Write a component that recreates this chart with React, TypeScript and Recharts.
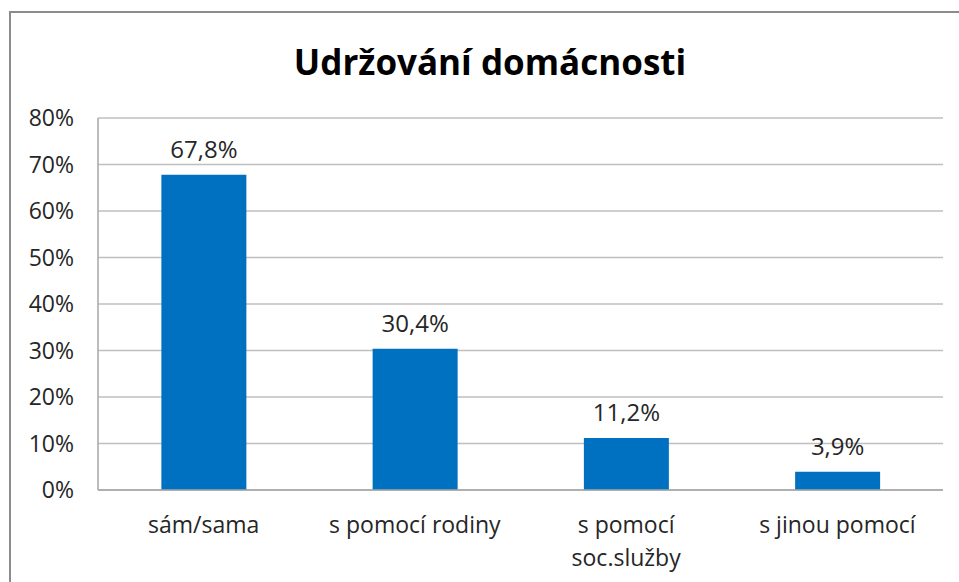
import { Bar, BarChart, CartesianGrid, LabelList, XAxis, YAxis } from "recharts"

const CATEGORIES = ["sám/sama", "s pomocí rodiny", "s pomocí\nsoc.služby", "s jinou pomocí"]
const SHARE = [67.8, 30.4, 11.2, 3.9]
const Y_TICKS = [0, 10, 20, 30, 40, 50, 60, 70, 80]

const BAR_COLOR = "#0070c0"
const TEXT_COLOR = "#262626"
const FONT = "'Open Sans', 'DejaVu Sans', sans-serif"

const data = CATEGORIES.map((name, index) => ({ name, value: SHARE[index] }))

const formatPercent = (value: number) => `${String(value).replace(".", ",")}%`

const CategoryTick = ({ x, y, payload }: { x?: number; y?: number; payload?: { value: string } }) => {
  const lines = String(payload?.value ?? "").split("\n")
  return (
    <text x={x} y={y} textAnchor="middle" fill={TEXT_COLOR} fontSize={23} fontFamily={FONT}>
      {lines.map((line, index) => (
        <tspan key={line} x={x} dy={index === 0 ? 35 : 33}>
          {line}
        </tspan>
      ))}
    </text>
  )
}

export default function App() {
  return (
    <div
      style={{
        position: "absolute",
        left: 0,
        top: 0,
        width: 959,
        height: 582,
        overflow: "hidden",
        background: "#fff",
      }}
    >
      <div
        style={{
          position: "absolute",
          left: 9,
          top: 11,
          width: 980,
          height: 620,
          border: "2px solid #8c8c8c",
        }}
      />
      <div
        style={{
          position: "absolute",
          left: 0,
          width: 980,
          top: 38,
          textAlign: "center",
          fontFamily: FONT,
          fontWeight: 700,
          fontSize: 35,
          lineHeight: "48px",
          color: "#000",
        }}
      >
        Udržování domácnosti
      </div>
      <BarChart
        width={959}
        height={582}
        data={data}
        margin={{ top: 118, right: 16, left: 0, bottom: 62 }}
        barCategoryGap="30%"
        style={{ position: "absolute", left: 0, top: 0 }}
      >
        <CartesianGrid vertical={false} stroke="#bfbfbf" strokeWidth={1.5} />
        <XAxis
          dataKey="name"
          height={30}
          axisLine={{ stroke: "#a6a6a6", strokeWidth: 1.5 }}
          tickLine={false}
          tick={<CategoryTick />}
          interval={0}
        />
        <YAxis
          width={98}
          domain={[0, 80]}
          ticks={Y_TICKS}
          tickFormatter={(value: number) => `${value}%`}
          axisLine={{ stroke: "#a6a6a6", strokeWidth: 1.5 }}
          tickLine={false}
          tickSize={0}
          tickMargin={24}
          tick={{ fill: TEXT_COLOR, fontSize: 23, fontFamily: FONT }}
        />
        <Bar dataKey="value" fill={BAR_COLOR} isAnimationActive={false}>
          <LabelList
            dataKey="value"
            position="top"
            offset={17}
            formatter={(value: number) => formatPercent(value)}
            fill={TEXT_COLOR}
            fontSize={24}
            fontFamily={FONT}
          />
        </Bar>
      </BarChart>
    </div>
  )
}
